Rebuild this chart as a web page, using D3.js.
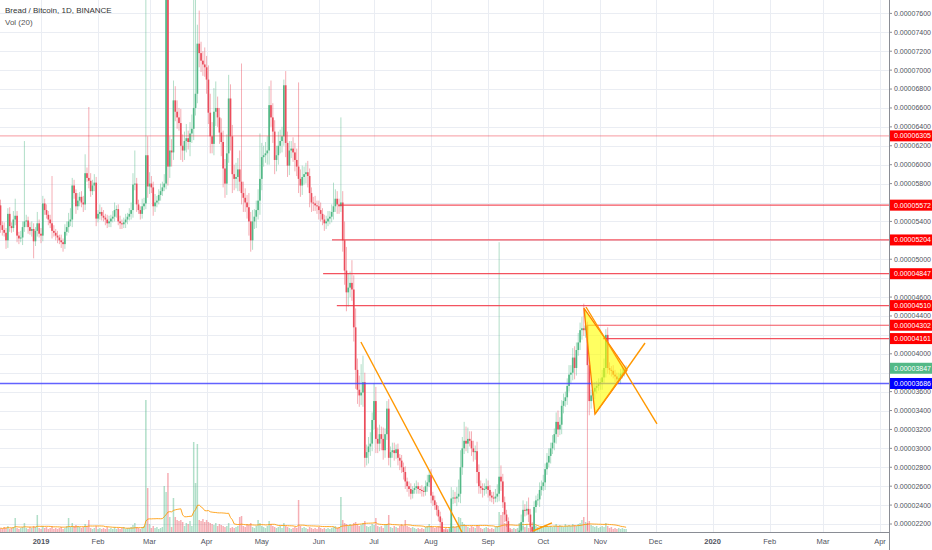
<!DOCTYPE html>
<html>
<head>
<meta charset="utf-8">
<script src="https://d3js.org/d3.v7.min.js"></script>
<style>
  body { margin: 0; background: #fff; }
  text { font-family: "Liberation Sans", Arial, sans-serif; }
</style>
</head>
<body>
<div id="chart"></div>
<script>
  // BRD/BTC daily, prices in satoshi (1e-8 BTC)
  const startDate = '2018-12-10';
  const firstOpen = 5570;
  const closes = [
    5360, 5310, 5280, 5200, 5480, 5350, 5330, 5420, 5460, 5250,
    5220, 5230, 5340, 5400, 5410, 5340, 5300, 5320, 5190, 5300,
    5380, 5270, 5250, 5590, 5520, 5470, 5420, 5380, 5300, 5280,
    5250, 5230, 5200, 5180, 5160, 5290, 5340, 5400, 5420, 5780,
    5700, 5560, 5620, 5660, 5600, 5580, 5910, 5860, 5830, 5720,
    5780, 5810, 5430, 5480, 5500, 5460, 5440, 5420, 5380, 5400,
    5430, 5450, 5520, 5530, 5400, 5380, 5370, 5390, 5420, 5450,
    5480, 5520, 5790, 5800, 5580, 5520, 5480, 5560, 5590, 6100,
    5770, 5800, 5760, 5560, 5600, 5620, 5680, 5720, 5760, 5800,
    7900, 5980, 6150, 6130, 6680, 6560, 6500, 6440, 6200, 6150,
    6250, 6280, 6240, 6330, 6380, 6600, 6750, 7280, 7180, 7100,
    7060, 7030, 6900, 6550, 6300, 6220, 6560, 6600, 6500, 6340,
    6240, 5960, 5800, 6120, 6700, 6300, 5900, 5850, 5870, 5950,
    5820, 5700, 5650, 5600, 5550, 5400, 5200, 5400, 5450, 5520,
    5620, 5850, 6080, 6100, 6120, 6150, 6630, 6500, 6350, 6050,
    6100, 6200, 6250, 6300, 6840, 6230, 5990, 6150, 6170, 6130,
    6050, 5980, 5850, 5780, 5870, 5900, 5920, 5880, 5700, 5600,
    5590, 5570, 5560, 5520, 5480, 5420, 5380, 5400, 5430, 5450,
    5500, 5560, 5640, 5580, 5560, 5600, 5200, 4880, 4650, 4700,
    4750, 4680, 4280, 3830, 3620, 3560, 3590, 3700, 2900, 2960,
    3020, 3050, 3300, 3500, 3100, 3050, 3150, 3100, 2980, 3150,
    3420, 2900, 2960, 2980, 2950, 2990, 2900, 2870, 2800, 2750,
    2650, 2600, 2570, 2520, 2560, 2580, 2600, 2570, 2560, 2550,
    2540, 2600, 2640, 2720, 2500, 2450, 2400, 2350, 2280, 2220,
    2110, 2100, 2080, 2060, 2090, 2470, 2480, 2470, 2490, 2520,
    2800, 3000, 3080, 3050, 3100, 3080, 3000, 2960, 2970, 2750,
    2600, 2580, 2560, 2570, 2600, 2560, 2500, 2480, 2470, 2490,
    2520, 2700, 2650, 2430, 2300, 2230, 2110, 2080, 2050, 2060,
    2050, 2070, 2130, 2220, 2350, 2340, 2360, 2300, 2170, 2120,
    2380, 2450, 2460, 2560, 2600, 2640, 2780, 2850, 2920, 3000,
    3060, 3150, 3280, 3200, 3250, 3450, 3500, 3540, 3660, 3780,
    3800, 3960, 3850, 4040, 4120, 4250, 4270, 4250, 4300, 3880,
    3500, 3560, 3600, 3640, 3660, 3680, 3700, 3750, 3850, 4200,
    3850, 3830, 3820, 3780, 3760, 3730, 3740, 3790, 3800, 3830,
    3847
  ];
  const wickUp = [
    60, 40, 80, 50, 60, 70, 40, 90, 180, 50,
    40, 70, 60, 850, 60, 40, 50, 80, 60, 40,
    120, 40, 60, 80, 50, 60, 40, 50, 500, 60,
    40, 50, 30, 60, 40, 80, 60, 90, 120, 80,
    60, 40, 80, 50, 60, 70, 200, 60, 750, 80,
    60, 90, 60, 40, 80, 50, 60, 40, 50, 60,
    40, 60, 80, 40, 50, 60, 40, 50, 60, 40,
    60, 80, 120, 350, 60, 50, 40, 80, 60, 1800,
    200, 120, 80, 60, 90, 50, 60, 80, 60, 100,
    500, 300, 150, 120, 210, 150, 120, 100, 150, 120,
    100, 150, 80, 120, 150, 1300, 1050, 200, 350, 120,
    100, 180, 120, 150, 200, 150, 250, 280, 120, 100,
    150, 120, 100, 200, 250, 150, 120, 100, 150, 120,
    200, 1250, 120, 100, 80, 150, 100, 120, 80, 100,
    120, 480, 150, 100, 120, 150, 200, 260, 150, 120,
    100, 150, 120, 100, 60, 150, 120, 100, 80, 120,
    100, 120, 890, 100, 120, 80, 100, 120, 80, 60,
    60, 80, 50, 60, 80, 60, 50, 60, 80, 60,
    80, 250, 100, 80, 60, 900, 120, 200, 250, 150,
    120, 240, 150, 200, 120, 150, 300, 280, 100, 80,
    100, 120, 80, 190, 150, 120, 100, 80, 120, 60,
    80, 100, 60, 80, 80, 50, 60, 40, 60, 50,
    60, 40, 50, 60, 40, 50, 60, 40, 30, 50,
    40, 60, 80, 50, 60, 40, 50, 30, 40, 50,
    40, 30, 40, 50, 60, 120, 80, 60, 100, 150,
    180, 120, 200, 150, 120, 80, 100, 80, 60, 100,
    80, 60, 50, 60, 80, 60, 50, 40, 60, 80,
    100, 2480, 120, 80, 60, 50, 40, 30, 40, 30,
    40, 30, 60, 80, 100, 60, 80, 120, 60, 50,
    60, 50, 60, 80, 60, 80, 60, 100, 80, 60,
    80, 60, 100, 120, 80, 60, 80, 60, 80, 100,
    80, 100, 120, 80, 100, 80, 120, 260, 150, 40,
    80, 60, 80, 60, 50, 60, 40, 80, 100, 60,
    80, 60, 40, 60, 50, 40, 60, 50, 70, 40,
    30
  ];
  const wickDn = [
    80, 60, 40, 90, 80, 60, 50, 40, 60, 70,
    60, 40, 80, 50, 60, 70, 40, 60, 180, 50,
    60, 40, 80, 60, 50, 40, 60, 50, 80, 40,
    50, 60, 40, 60, 80, 50, 40, 60, 50, 80,
    60, 80, 40, 60, 50, 80, 60, 40, 80, 60,
    40, 60, 80, 40, 60, 50, 40, 60, 50, 40,
    60, 40, 50, 80, 40, 60, 50, 40, 60, 50,
    40, 60, 80, 60, 80, 40, 60, 50, 40, 60,
    120, 80, 60, 100, 60, 50, 40, 60, 50, 40,
    60, 200, 120, 150, 80, 100, 120, 80, 150, 120,
    100, 120, 80, 150, 100, 120, 80, 100, 150, 120,
    120, 100, 150, 120, 180, 100, 120, 150, 100, 120,
    150, 200, 150, 120, 100, 150, 200, 120, 100, 150,
    100, 120, 150, 100, 120, 150, 120, 100, 80, 120,
    100, 150, 120, 100, 80, 120, 150, 100, 120, 150,
    120, 100, 80, 120, 100, 150, 120, 100, 80, 100,
    120, 100, 150, 120, 100, 80, 100, 120, 150, 100,
    80, 60, 80, 100, 80, 60, 80, 60, 50, 60,
    60, 80, 60, 100, 80, 60, 120, 150, 200, 150,
    100, 120, 150, 200, 150, 120, 100, 150, 100, 80,
    120, 100, 80, 100, 150, 100, 80, 120, 100, 80,
    60, 80, 100, 60, 80, 60, 80, 100, 60, 80,
    80, 60, 80, 60, 50, 40, 60, 50, 40, 60,
    50, 40, 60, 50, 80, 60, 50, 60, 50, 60,
    50, 40, 30, 40, 50, 80, 60, 50, 80, 60,
    100, 80, 60, 80, 100, 60, 80, 100, 80, 120,
    80, 60, 80, 60, 50, 80, 60, 50, 60, 40,
    60, 80, 100, 60, 80, 60, 50, 40, 30, 40,
    30, 40, 50, 60, 80, 60, 50, 80, 60, 40,
    80, 60, 50, 80, 60, 50, 80, 60, 50, 80,
    60, 80, 100, 80, 60, 100, 80, 60, 80, 60,
    100, 80, 120, 80, 60, 80, 100, 60, 80, 1750,
    150, 80, 60, 80, 60, 50, 60, 80, 60, 100,
    60, 50, 60, 40, 60, 50, 40, 60, 50, 40,
    30
  ];
  // volume in thousand BRD
  const volumes = [
    40, 30, 50, 40, 60, 30, 40, 50, 140, 40,
    30, 40, 50, 90, 40, 30, 50, 40, 60, 50,
    170, 40, 30, 60, 40, 50, 30, 40, 60, 30,
    40, 30, 40, 50, 30, 40, 60, 140, 50, 90,
    60, 70, 60, 50, 40, 50, 80, 60, 120, 40,
    30, 40, 60, 30, 40, 30, 40, 30, 50, 30,
    40, 30, 50, 30, 40, 30, 40, 50, 30, 40,
    40, 50, 70, 90, 50, 40, 30, 50, 60, 1320,
    440, 80, 40, 60, 40, 50, 30, 40, 50, 460,
    400, 590, 150, 50, 340, 150, 120, 110, 120, 100,
    60, 90, 80, 110, 60, 900, 490, 880, 120, 110,
    130, 100, 120, 100, 90, 80, 70, 90, 60, 80,
    70, 60, 50, 60, 90, 40, 50, 40, 50, 60,
    150, 160, 60, 50, 80, 70, 90, 50, 40, 60,
    120, 90, 60, 50, 40, 60, 110, 80, 60, 50,
    40, 50, 60, 40, 90, 60, 50, 40, 30, 40,
    50, 40, 320, 60, 40, 50, 40, 30, 50, 40,
    30, 40, 30, 50, 40, 30, 40, 30, 40, 30,
    40, 50, 60, 40, 50, 350, 120, 90, 80, 60,
    80, 70, 90, 100, 80, 60, 70, 90, 110, 60,
    50, 60, 80, 70, 140, 60, 50, 60, 40, 70,
    80, 170, 50, 40, 60, 50, 40, 60, 80, 60,
    120, 60, 50, 40, 50, 40, 30, 40, 30, 40,
    30, 50, 60, 80, 60, 50, 40, 50, 60, 50,
    40, 30, 40, 30, 50, 90, 60, 50, 60, 150,
    140, 100, 80, 60, 50, 40, 60, 50, 40, 70,
    60, 40, 30, 40, 50, 40, 30, 40, 30, 50,
    60, 200, 170, 200, 90, 80, 60, 40, 30, 40,
    30, 40, 90, 90, 60, 50, 80, 40, 50, 40,
    70, 60, 50, 40, 60, 50, 70, 60, 50, 60,
    50, 60, 80, 60, 70, 60, 50, 80, 60, 70,
    60, 80, 70, 60, 80, 90, 120, 150, 100, 90,
    110, 70, 60, 50, 60, 40, 50, 60, 50, 90,
    60, 40, 50, 30, 40, 30, 40, 30, 40, 30,
    30
  ];

  const priceTicks = [2200, 2400, 2600, 2800, 3000, 3200, 3400, 3600, 3800, 4000,
    4200, 4400, 4600, 4800, 5000, 5200, 5400, 5600, 5800, 6000, 6200, 6400,
    6600, 6800, 7000, 7200, 7400, 7600];

  // horizontal levels drawn on the chart
  const levelPrices = [6305, 5572, 5204, 4847, 4510, 4302, 4161];
  const levelStarts = ['2018-12-01T00:00Z', '2019-06-12T12:00Z', '2019-06-08T04:00Z',
    '2019-06-03T08:00Z', '2019-06-10T19:00Z', '2019-10-24T19:00Z', '2019-11-02T10:00Z'];
  const supportPrice = 3686;
  const lastPrice = 3847;

  // trend lines [[date, price], [date, price]]
  const trendLines = [
    [['2019-06-23T21:00Z', 4125], ['2019-08-17T19:00Z', 2115]],
    [['2019-09-25T10:00Z', 2126], ['2019-10-05T17:00Z', 2211]],
    [['2019-10-24T05:00Z', 4495], ['2019-12-01T19:00Z', 3258]],
    [['2019-10-29T02:00Z', 3363], ['2019-11-25T07:00Z', 4114]]
  ];
  const triangle = [['2019-10-23T02:00Z', 4484], ['2019-10-29T02:00Z', 3363], ['2019-11-15T12:00Z', 3829]];

  const W = 932, H = 550, plotW = 889, plotH = 532;
  const upColor = '#53b987', downColor = '#eb4d5c';

  const parse = d3.utcParse('%Y-%m-%d');
  const t0 = parse(startDate);
  const bars = closes.map((c, i) => {
    const o = i === 0 ? firstOpen : closes[i - 1];
    return {
      date: d3.utcDay.offset(t0, i), o: o, c: c,
      h: Math.max(o, c) + wickUp[i], l: Math.min(o, c) - wickDn[i], v: volumes[i]
    };
  });
  const volMA = volumes.map((v, i) => d3.mean(volumes.slice(Math.max(0, i - 19), i + 1)));

  const x = d3.scaleUtc().domain([parse('2018-12-10'), parse('2020-04-01')]).range([0.5, 880]);
  const y = d3.scaleLinear().domain([2200, 7600]).range([524, 13.4]);
  const yVol = d3.scaleLinear().domain([0, 1000]).range([plotH, plotH - 100]);
  const fmt = v => (v / 1e8).toFixed(8);

  const svg = d3.select('#chart').append('svg').attr('width', W).attr('height', H);
  svg.append('rect').attr('width', W).attr('height', H).attr('fill', '#fff');
  svg.append('clipPath').attr('id', 'plotclip')
    .append('rect').attr('width', plotW).attr('height', plotH);

  // grid
  const months = d3.utcMonth.range(x.invert(0), x.invert(plotW));
  const grid = svg.append('g');
  grid.selectAll('line.h').data(priceTicks).enter().append('line')
    .attr('x1', 0).attr('x2', plotW)
    .attr('y1', d => Math.round(y(d)) + 0.5).attr('y2', d => Math.round(y(d)) + 0.5)
    .style('stroke', '#eaedf3').style('stroke-width', 1);
  grid.selectAll('line.v').data(months).enter().append('line')
    .attr('y1', 0).attr('y2', plotH)
    .attr('x1', d => Math.round(x(d)) + 0.5).attr('x2', d => Math.round(x(d)) + 0.5)
    .style('stroke', '#eaedf3').style('stroke-width', 1);

  const plot = svg.append('g').attr('clip-path', 'url(#plotclip)');

  // volume
  plot.append('g').selectAll('rect').data(bars).enter().append('rect')
    .attr('x', d => x(d.date) - 0.75)
    .attr('width', 1.5)
    .attr('y', d => yVol(d.v))
    .attr('height', d => plotH - yVol(d.v))
    .style('fill', d => d.c >= d.o ? upColor : downColor)
    .style('opacity', 0.45);
  plot.append('path').datum(bars)
    .attr('d', d3.line().x(d => x(d.date)).y((d, i) => yVol(volMA[i])))
    .style('fill', 'none').style('stroke', '#ff9800').style('stroke-width', 1).style('opacity', 0.85);

  // candles
  const candles = plot.append('g');
  candles.selectAll('line').data(bars).enter().append('line')
    .attr('x1', d => x(d.date)).attr('x2', d => x(d.date))
    .attr('y1', d => y(d.h)).attr('y2', d => y(d.l))
    .style('stroke', d => d.c >= d.o ? upColor : downColor)
    .style('stroke-width', 0.9).style('opacity', 0.5);
  candles.selectAll('rect').data(bars).enter().append('rect')
    .attr('x', d => x(d.date) - 0.85)
    .attr('width', 1.7)
    .attr('y', d => y(Math.max(d.o, d.c)))
    .attr('height', d => Math.max(1, Math.abs(y(d.o) - y(d.c))))
    .style('fill', d => d.c >= d.o ? upColor : downColor);

  // levels
  const lv = plot.append('g');
  levelPrices.forEach((p, i) => {
    lv.append('line')
      .attr('x1', x(new Date(levelStarts[i]))).attr('x2', plotW)
      .attr('y1', y(p)).attr('y2', y(p))
      .style('stroke', '#f23645').style('stroke-width', 1.2)
      .style('opacity', i === 0 ? 0.4 : 0.85);
  });
  lv.append('line').attr('x1', 0).attr('x2', plotW)
    .attr('y1', Math.round(y(supportPrice)) + 0.5).attr('y2', Math.round(y(supportPrice)) + 0.5)
    .attr('stroke', 'rgb(70,70,255)').attr('stroke-width', 1.3).attr('stroke-opacity', 0.85);

  // triangle and trend lines
  const pt = d => [x(new Date(d[0])), y(d[1])];
  plot.append('path')
    .attr('d', 'M' + triangle.map(d => pt(d).join(',')).join('L') + 'Z')
    .style('fill', 'rgba(255,255,0,0.62)').style('stroke', '#ff7f00').style('stroke-width', 1.3);
  plot.selectAll('line.trend').data(trendLines).enter().append('line')
    .attr('x1', d => pt(d[0])[0]).attr('y1', d => pt(d[0])[1])
    .attr('x2', d => pt(d[1])[0]).attr('y2', d => pt(d[1])[1])
    .style('stroke', '#ff9800').style('stroke-width', 1.4);

  // price axis
  svg.append('rect').attr('x', plotW).attr('y', 0).attr('width', W - plotW).attr('height', H).attr('fill', '#fff');
  svg.append('rect').attr('x', 0).attr('y', plotH).attr('width', plotW).attr('height', H - plotH).attr('fill', '#fff');
  svg.append('line').attr('x1', plotW + 0.5).attr('x2', plotW + 0.5).attr('y1', 0).attr('y2', H)
    .style('stroke', '#8a8d95').style('stroke-width', 1);
  svg.append('line').attr('x1', 0).attr('x2', plotW).attr('y1', plotH + 0.5).attr('y2', plotH + 0.5)
    .style('stroke', '#8a8d95').style('stroke-width', 1);

  // price labels: ticks fully hidden behind a label box are skipped
  const labels = levelPrices.map(p => ({p: p, bg: '#ff0000'}))
    .concat([{p: lastPrice, bg: '#53b987'}, {p: supportPrice, bg: '#0000ff'}]);
  const shownTicks = priceTicks.filter(t => labels.every(l => Math.abs(y(t) - y(l.p)) > 6));

  const yAxis = svg.append('g');
  shownTicks.forEach(p => {
    yAxis.append('line').attr('x1', plotW).attr('x2', plotW + 3)
      .attr('y1', y(p)).attr('y2', y(p)).style('stroke', '#8a8d95');
    yAxis.append('text').attr('x', plotW + 5).attr('y', y(p)).attr('dy', '0.35em')
      .text(fmt(p)).style('font-size', '7px').style('fill', '#50535e');
  });

  // time axis
  svg.append('g').selectAll('text').data(months).enter().append('text')
    .attr('x', d => x(d)).attr('y', 544)
    .text(d => d.getUTCMonth() === 0 ? d3.utcFormat('%Y')(d) : d3.utcFormat('%b')(d))
    .style('text-anchor', 'middle').style('font-size', '7.5px')
    .style('font-weight', d => d.getUTCMonth() === 0 ? 'bold' : 'normal')
    .style('fill', '#50535e');

  const lab = svg.append('g').selectAll('g').data(labels).enter().append('g');
  lab.append('rect').attr('x', plotW + 1).attr('y', d => y(d.p) - 5.5)
    .attr('width', W - plotW - 1).attr('height', 11).style('fill', d => d.bg);
  lab.append('text').attr('x', plotW + 5).attr('y', d => y(d.p)).attr('dy', '0.35em')
    .text(d => fmt(d.p)).style('font-size', '7px').style('fill', '#fff');

  // header
  svg.append('text').attr('x', 5).attr('y', 13).text('Bread / Bitcoin, 1D, BINANCE')
    .style('font-size', '8px').style('fill', '#333');
  svg.append('text').attr('x', 5).attr('y', 25).text('Vol (20)')
    .style('font-size', '8px').style('fill', '#555');
</script>
</body>
</html>
